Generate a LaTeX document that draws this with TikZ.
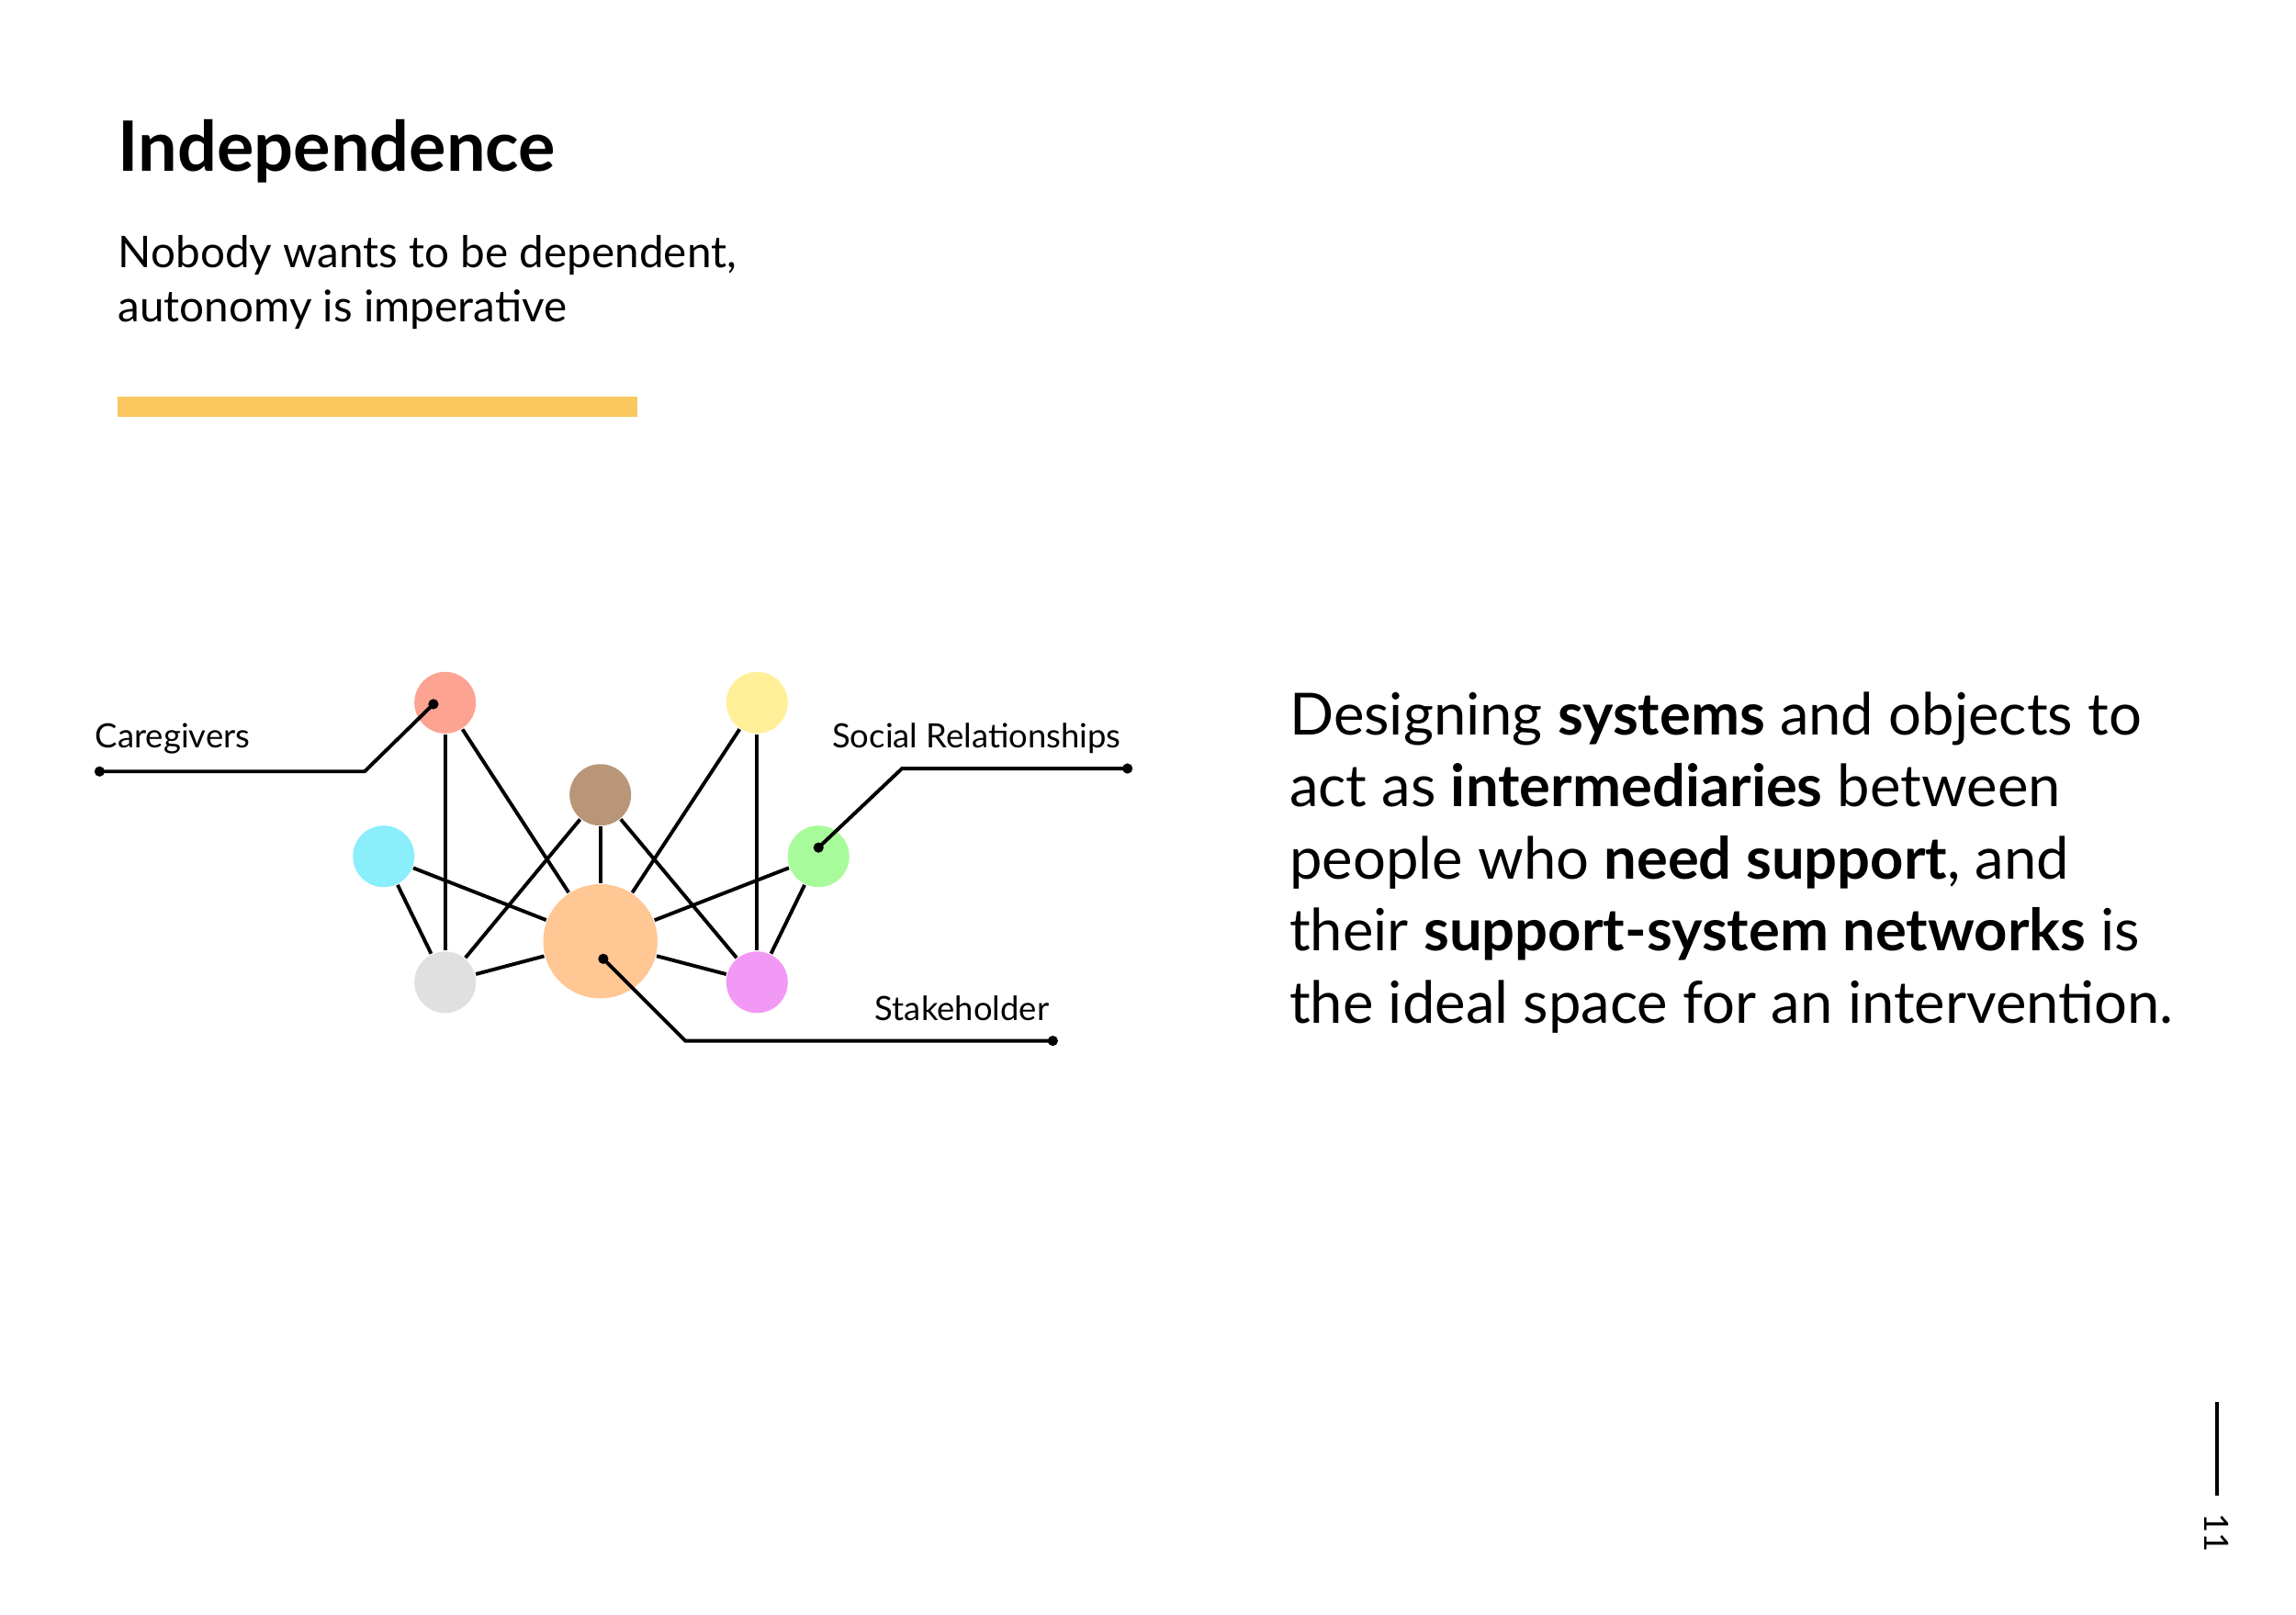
\documentclass[tikz,border=0pt]{standalone}
\usepackage{fontspec}
\setmainfont{Lato}
\usetikzlibrary{positioning}
\definecolor{barcol}{HTML}{FAC85F}
\definecolor{cred}{HTML}{FCA392}
\definecolor{cyellow}{HTML}{FFEF99}
\definecolor{cbrown}{HTML}{B99677}
\definecolor{ccyan}{HTML}{8AEEFB}
\definecolor{cgreen}{HTML}{A8FB9A}
\definecolor{corange}{HTML}{FFC794}
\definecolor{cgray}{HTML}{E0E0E0}
\definecolor{cpink}{HTML}{F298F5}
\tikzset{
  person/.style={circle,fill=#1,minimum size=0.42cm,inner sep=0pt},
  link/.style={line width=0.7pt},
  lead/.style={line width=0.7pt},
  tag/.style={font=\fontsize{6.5}{8}\selectfont,inner sep=0pt}
}
\begin{document}
\begin{tikzpicture}[x=0.01cm,y=-0.01cm]
\useasboundingbox (0,0) rectangle (1568,1103);
% heading
\node[anchor=base west,inner sep=0pt,font=\fontsize{13.5}{16}\selectfont\bfseries] (title) at (80,117) {Independence};
\node[anchor=base west,inner sep=0pt,align=left,font=\fontsize{8.5}{10.6}\selectfont] (sub) at (80,220) {Nobody wants to be dependent,\\autonomy is imperative};
\fill[barcol] (80,271) rectangle (435,285);
% network
\node[person=cred] (care) at (304,480) {};
\node[person=cyellow] (yel) at (517,480) {};
\node[person=cbrown] (brn) at (410,543) {};
\node[person=ccyan] (cya) at (262,585) {};
\node[person=cgreen] (soc) at (559,585) {};
\node[person=corange,minimum size=0.78cm] (stake) at (410,643) {};
\node[person=cgray] (gry) at (304,671) {};
\node[person=cpink] (pnk) at (517,671) {};
\foreach \a/\b in {care/gry,care/stake,yel/pnk,yel/stake,brn/stake,brn/gry,brn/pnk,cya/gry,cya/stake,soc/pnk,soc/stake,gry/stake,pnk/stake}
  \draw[link] (\a) -- (\b);
% callouts
\coordinate (c1) at (296,481);
\coordinate (c2) at (249,527);
\coordinate (c3) at (68,527);
\draw[lead] (c1) -- (c2) -- (c3);
\fill (c1) circle (1pt) (c3) circle (1pt);
\node[tag,anchor=base] (ctag) at (118,511) {Caregivers};
\coordinate (s1) at (559,579);
\coordinate (s2) at (616,525);
\coordinate (s3) at (770,525);
\draw[lead] (s1) -- (s2) -- (s3);
\fill (s1) circle (1pt) (s3) circle (1pt);
\node[tag,anchor=base] (stag) at (667,511) {Social Relationships};
\coordinate (k1) at (412,655);
\coordinate (k2) at (468,711);
\coordinate (k3) at (719,711);
\draw[lead] (k1) -- (k2) -- (k3);
\fill (k1) circle (1pt) (k3) circle (1pt);
\node[tag,anchor=base] (ktag) at (657,697) {Stakeholder};
% paragraph
\node[anchor=base west,inner sep=0pt,align=left,font=\fontsize{11.3}{14}\selectfont] (para) at (880,699)
{Designing \textbf{systems} and objects to\\act as \textbf{intermediaries} between\\people who \textbf{need support}, and\\their \textbf{support-system networks} is\\the ideal space for an intervention.};
% page number
\coordinate (p1) at (1514,958);
\coordinate (p2) at (1514,1022);
\draw[line width=0.6pt] (p1) -- (p2);
\node[rotate=-90,inner sep=0pt,font=\fontsize{6.5}{8}\selectfont] (pg) at (1514,1047) {11};
\end{tikzpicture}
\end{document}
